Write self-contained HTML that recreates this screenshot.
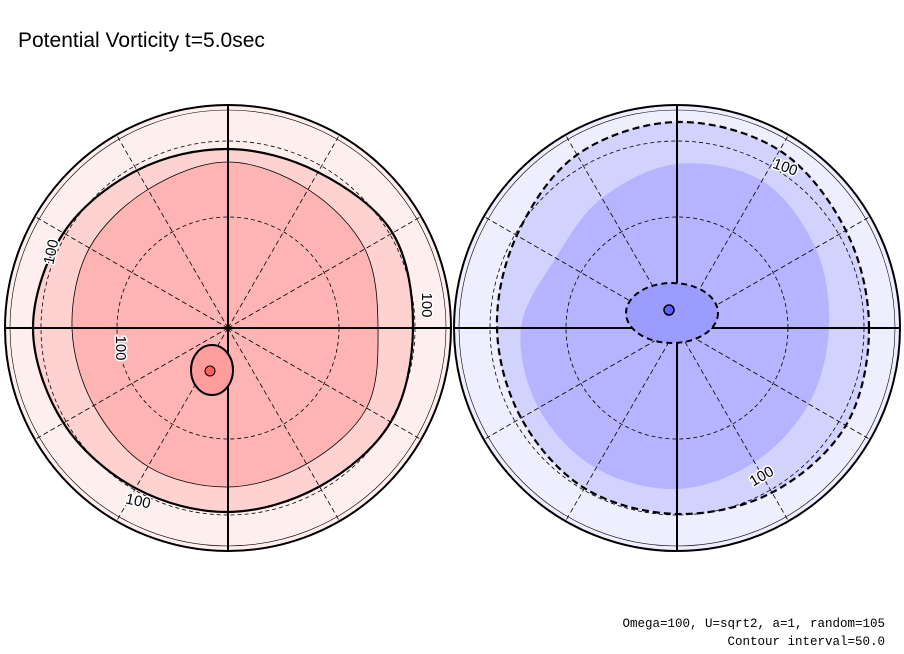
<!DOCTYPE html>
<html><head><meta charset="utf-8"><style>
html,body{margin:0;padding:0;background:#fff;}
svg{display:block;font-family:"Liberation Sans",sans-serif;}
</style></head><body>
<svg id="chart" width="904" height="654" viewBox="0 0 904 654">
<text x="18" y="47" font-size="21" fill="#000">Potential Vorticity t=5.0sec</text>
<text x="885" y="627" font-size="12.5" text-anchor="end" font-family="Liberation Mono, monospace">Omega=100, U=sqrt2, a=1, random=105</text>
<text x="885" y="645" font-size="12.5" text-anchor="end" font-family="Liberation Mono, monospace">Contour interval=50.0</text>
<g id="plots"></g>
</svg>
<script>
// angles of radius samples (degrees, counter-clockwise from east)
const angles = [0,30,60,90,120,150,180,210,240,270,300,330];
// contour radii (in plot px) per hemisphere
const leftLevel100 = [185,190,180,179,182,190,195,190,185,184,183,188];
const leftLevel150 = [150,158,160,166,160,160,156,155,160,159,157,160];
const rightLevel100 = [192,195,205,206,200,185,180,180,185,186,190,195];
const rightLevel150 = [152,160,170,164,150,140,156,160,162,161,155,152];
const latCircles = [111,187];
const meridians = [0,30,60,90,120,150,180,210,240,270,300,330];

const svg = document.getElementById('plots');
const NS = 'http://www.w3.org/2000/svg';
const R = 223;
function mk(tag, attrs){const e=document.createElementNS(NS,tag);for(const k in attrs)e.setAttribute(k,attrs[k]);svg.appendChild(e);return e;}
function pt(cx,cy,r,a){const t=a*Math.PI/180;return [cx+r*Math.cos(t),cy-r*Math.sin(t)];}
function smoothPath(cx,cy,radii){
  const n=radii.length,p=radii.map((r,i)=>pt(cx,cy,r,angles[i]));
  let d=`M${p[0][0]},${p[0][1]}`;
  for(let i=0;i<n;i++){
    const p0=p[(i-1+n)%n],p1=p[i],p2=p[(i+1)%n],p3=p[(i+2)%n];
    const c1=[p1[0]+(p2[0]-p0[0])/6,p1[1]+(p2[1]-p0[1])/6];
    const c2=[p2[0]-(p3[0]-p1[0])/6,p2[1]-(p3[1]-p1[1])/6];
    d+=`C${c1[0]},${c1[1]} ${c2[0]},${c2[1]} ${p2[0]},${p2[1]}`;
  }
  return d+'Z';
}
function hemi(cx,cy,cols,l100,l150,dashed,side){
  let e;
  e=mk('circle',{cx,cy,r:R,fill:cols[0]});
  
  
  e=mk('path',{d:smoothPath(cx,cy,l100),fill:cols[1],stroke:'#000','stroke-width':2.2,'stroke-dasharray':dashed?'7,4':'none'});
  
  
  e=mk('path',{d:smoothPath(cx,cy,l150),fill:cols[2],stroke:dashed?'none':'#000','stroke-width':0.8});
  
  
  latCircles.forEach(r=>{
    e=mk('circle',{cx,cy,r,fill:'none',stroke:'#000','stroke-width':0.8,'stroke-dasharray':'4,3'});
    
    
  });
  meridians.forEach(a=>{
    if(a%90===0)return;
    const q=pt(cx,cy,R,a);
    e=mk('line',{x1:cx,y1:cy,x2:q[0],y2:q[1],stroke:'#000','stroke-width':0.8,'stroke-dasharray':'5,3'});
    
    
  });
  e=mk('circle',{cx,cy,r:R-5,fill:'none',stroke:'#000','stroke-width':0.6});
  
  
  e=mk('circle',{cx,cy,r:R,fill:'none',stroke:'#000','stroke-width':2});
  
  
  e=mk('line',{x1:cx-R,y1:cy,x2:cx+R,y2:cy,stroke:'#000','stroke-width':2});
  
  
  e=mk('line',{x1:cx,y1:cy-R,x2:cx,y2:cy+R,stroke:'#000','stroke-width':2});
  
  
}
hemi(228,328,['#ffeeee','#ffd2d2','#ffb4b4'],leftLevel100,leftLevel150,false,'left');
hemi(677,328,['#eeeeff','#d2d2ff','#b4b4ff'],rightLevel100,rightLevel150,true,'right');
// core vortices
let c;
c=mk('ellipse',{cx:212,cy:370,rx:21,ry:25,fill:'#ff9c9c',stroke:'#000','stroke-width':2});


c=mk('circle',{cx:210,cy:371,r:5,fill:'#ff6060',stroke:'#000','stroke-width':1});


c=mk('ellipse',{cx:672,cy:313,rx:46,ry:30,fill:'#9c9cff',stroke:'#000','stroke-width':2,'stroke-dasharray':'6,4'});


c=mk('circle',{cx:669,cy:310,r:5,fill:'#6060ff',stroke:'#000','stroke-width':1.5});


// contour labels
const labels=[[52,252,-78],[426,305,90],[138,502,12],[120,348,90],[785,168,20],[762,477,-30]];
labels.forEach(l=>{
  const t=mk('text',{x:l[0],y:l[1],'font-size':15,'text-anchor':'middle','dominant-baseline':'middle',transform:`rotate(${l[2]} ${l[0]} ${l[1]})`,fill:'#000',stroke:'#fff','stroke-width':3,'paint-order':'stroke'});
  t.textContent='100';
  
  
});
</script>
</body></html>
